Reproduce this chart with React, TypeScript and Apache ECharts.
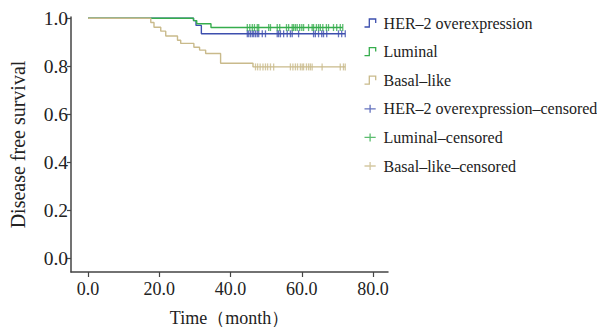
import React, { useEffect, useRef } from "react";
import * as echarts from "echarts";

// Kaplan–Meier step curves: [time (month), survival]
const her2Curve: [number, number][] = [
  [0, 1], [29.6, 0.99], [30.3, 0.97], [31.8, 0.935], [72.2, 0.935],
];
const luminalCurve: [number, number][] = [
  [0, 1], [29.6, 0.99], [30.5, 0.977], [34.5, 0.961], [71.5, 0.961],
];
const basalCurve: [number, number][] = [
  [0, 1], [17.6, 0.982], [18.5, 0.962], [20.4, 0.946], [21.8, 0.926],
  [25.1, 0.908], [26.0, 0.895], [29.7, 0.879], [31.3, 0.867], [33.0, 0.853],
  [37.2, 0.812], [46.3, 0.797], [72.2, 0.797],
];

// censored observation times
const her2Censored = [
  44.7, 45.1, 45.6, 46.1, 46.5, 47.0, 47.5, 47.9, 48.9, 49.8, 53.1, 53.5, 54.0,
  54.9, 55.9, 56.8, 57.3, 59.1, 63.3, 63.8, 64.7, 65.6, 66.1, 67.0, 70.3, 71.2, 72.2,
];
const luminalCensored = [
  44.7, 45.4, 46.1, 46.7, 47.5, 47.9, 50.7, 51.2, 53.1, 53.8, 55.7, 56.3, 57.3,
  57.7, 58.2, 58.7, 59.4, 60.0, 60.5, 61.9, 62.9, 63.3, 64.1, 64.7, 65.2, 65.9,
  66.9, 67.5, 68.9, 69.8, 70.8, 71.5,
];
const basalCensored = [
  47.0, 47.6, 48.3, 49.1, 49.8, 50.4, 51.2, 52.1, 56.8, 57.5, 58.2, 58.8, 59.6,
  60.1, 60.5, 61.3, 61.9, 62.4, 62.9, 65.7, 70.8, 71.7, 72.2,
];

const seriesNames = [
  "HER–2 overexpression",
  "Luminal",
  "Basal–like",
  "HER–2 overexpression–censored",
  "Luminal–censored",
  "Basal–like–censored",
];

const xTicks = [0, 20, 40, 60, 80];
const yTicks = [0, 0.2, 0.4, 0.6, 0.8, 1.0];

const BLUE = "#3d4fae";
const GREEN = "#35ad4c";
const TAN = "#c9ba8b";
const FONT = "Liberation Serif";

function levelAt(curve: [number, number][], t: number): number {
  let v = curve[0][1];
  for (const [ct, cv] of curve) {
    if (ct <= t) v = cv;
  }
  return v;
}

export default function App() {
  const ref = useRef<HTMLDivElement>(null);

  useEffect(() => {
    if (!ref.current) return;
    const chart = echarts.init(ref.current, undefined, { renderer: "svg" });

    const stepIcon = "path://M0,10 L6,10 L6,0 L14,0 L14,5";
    const plusIcon = "path://M0,5 L14,5 M7,0 L7,10";
    const colors = [BLUE, GREEN, TAN, BLUE, GREEN, TAN];

    const lineSeries = (name: string, data: [number, number][], color: string) => ({
      type: "line",
      name,
      data,
      step: "end",
      showSymbol: false,
      symbol: "none",
      lineStyle: { color, width: 1.4 },
      itemStyle: { color },
      z: 2,
    });
    const censSeries = (name: string, times: number[], curve: [number, number][], color: string) => ({
      type: "scatter",
      name,
      data: times.map((t) => [t, levelAt(curve, t)]),
      symbol: "rect",
      symbolSize: [1.3, 7],
      itemStyle: { color },
      z: 3,
    });

    chart.setOption({
      animation: false,
      backgroundColor: "#ffffff",
      grid: { left: 70, top: 17, width: 318, height: 255, containLabel: false },
      legend: {
        orient: "vertical",
        left: 362,
        top: 15,
        padding: 0,
        itemWidth: 17,
        itemHeight: 8,
        itemGap: 12.6,
        textStyle: { fontFamily: FONT, fontSize: 16, color: "#222" },
        data: seriesNames.map((n, i) => ({
          name: n,
          icon: i < 3 ? stepIcon : plusIcon,
          itemStyle: { color: "none", borderColor: colors[i], borderWidth: 1.3 },
        })),
      },
      xAxis: {
        type: "value",
        min: -4.8,
        max: 84.2,
        name: "Time（month）",
        nameLocation: "middle",
        nameGap: 37,
        nameTextStyle: { fontFamily: FONT, fontSize: 18, color: "#222" },
        axisLine: { show: true, onZero: false, lineStyle: { color: "#444", width: 1.5 } },
        axisTick: { show: true, length: 5, customValues: xTicks, lineStyle: { color: "#444", width: 1.2 } },
        axisLabel: {
          customValues: xTicks,
          formatter: (v: number) => v.toFixed(1),
          fontFamily: FONT,
          fontSize: 18,
          color: "#222",
          margin: 8,
        },
        splitLine: { show: false },
      },
      yAxis: {
        type: "value",
        min: -0.058,
        max: 1.005,
        name: "Disease free survival",
        nameLocation: "middle",
        nameGap: 43,
        nameTextStyle: { fontFamily: FONT, fontSize: 20, color: "#222" },
        axisLine: { show: true, onZero: false, lineStyle: { color: "#444", width: 1.5 } },
        axisTick: { show: true, length: 4, customValues: yTicks, lineStyle: { color: "#444", width: 1.2 } },
        axisLabel: {
          customValues: yTicks,
          formatter: (v: number) => v.toFixed(1),
          fontFamily: FONT,
          fontSize: 19.5,
          color: "#222",
          margin: 3,
        },
        splitLine: { show: false },
      },
      series: [
        lineSeries(seriesNames[0], her2Curve, BLUE),
        lineSeries(seriesNames[1], luminalCurve, GREEN),
        lineSeries(seriesNames[2], basalCurve, TAN),
        censSeries(seriesNames[3], her2Censored, her2Curve, BLUE),
        censSeries(seriesNames[4], luminalCensored, luminalCurve, GREEN),
        censSeries(seriesNames[5], basalCensored, basalCurve, TAN),
      ],
    });

    return () => chart.dispose();
  }, []);

  return (
    <div
      ref={ref}
      style={{ position: "fixed", left: 0, top: 0, width: 597, height: 332 }}
    />
  );
}
